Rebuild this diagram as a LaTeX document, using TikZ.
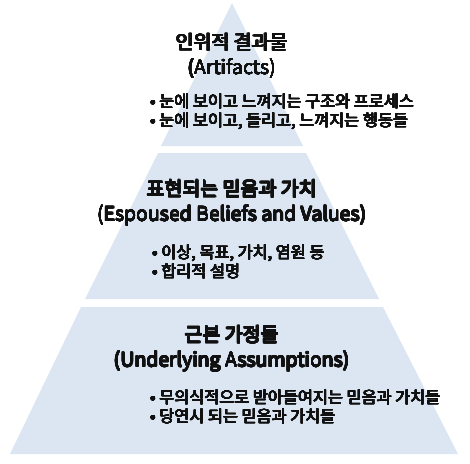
\documentclass[tikz,border=0pt]{standalone}
\usepackage{fontspec}
\usepackage[copies]{contour}
\setmainfont{Noto Sans CJK KR}
\contourlength{0.32pt}
\contournumber{16}
\definecolor{bandfill}{HTML}{DCE6F2}
\definecolor{txt}{HTML}{111111}
\newcommand\bt[1]{\contour{txt}{#1}}
\begin{document}
\begin{tikzpicture}[x=1pt,y=-1pt,
  band/.style={fill=bandfill,draw=none},
  ttl/.style={font=\fontsize{19.5}{25}\selectfont,text=txt,align=center,inner sep=0pt},
  blt/.style={font=\fontsize{16.3}{19}\selectfont,text=txt,align=left,anchor=west,inner sep=0pt}]
\useasboundingbox (0,0) rectangle (470,463);
% bands
\path[band] (232,3) -- (303,146) -- (161,146) -- cycle;
\path[band] (158,153) -- (306,153) -- (379,299) -- (85,299) -- cycle;
\path[band] (81,307) -- (383,307) -- (458,454) -- (10,454) -- cycle;
% band 1
\node[ttl] (t1) at (232,56) {\bt{인위적 결과물}\\\bt{(Artifacts)}};
\node[blt] (b1) at (150,112) {\bt{• 눈에 보이고 느껴지는 구조와 프로세스}\\\bt{• 눈에 보이고, 들리고, 느껴지는 행동들}};
% band 2
\node[ttl] (t2) at (232,203) {\bt{표현되는 믿음과 가치}\\\bt{(Espoused Beliefs and Values)}};
\node[blt] (b2) at (152,262) {\bt{• 이상, 목표, 가치, 염원 등}\\\bt{• 합리적 설명}};
% band 3
\node[ttl] (t3) at (232,349) {\bt{근본 가정들}\\\bt{(Underlying Assumptions)}};
\node[blt] (b3) at (150,407) {\bt{• 무의식적으로 받아들여지는 믿음과 가치들}\\\bt{• 당연시 되는 믿음과 가치들}};
\end{tikzpicture}
\end{document}
